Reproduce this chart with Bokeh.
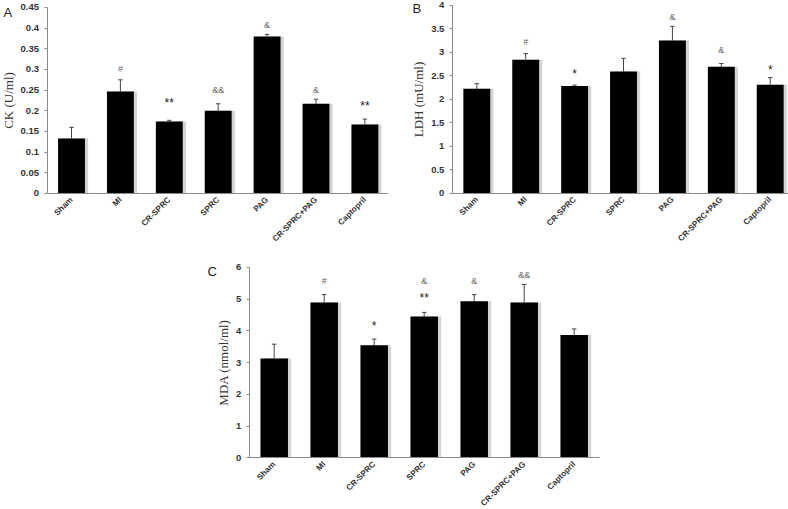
import math
from bokeh.plotting import figure
from bokeh.models import Range1d, FixedTicker, Spacer, ColumnDataSource
from bokeh.layouts import row, column
from bokeh.transform import dodge
from bokeh.embed import file_html
from bokeh.resources import INLINE
from bokeh.core.properties import value

groups = ["Sham", "MI", "CR-SPRC", "SPRC", "PAG", "CR-SPRC+PAG", "Captopril"]

# Panel A: CK
ck_mean = [0.133, 0.247, 0.174, 0.200, 0.380, 0.217, 0.167]
ck_err = [0.027, 0.028, 0.003, 0.017, 0.005, 0.011, 0.013]
ck_ticks = [0, 0.05, 0.1, 0.15, 0.2, 0.25, 0.3, 0.35, 0.4, 0.45]
ck_tick_labels = ["0", "0.05", "0.1", "0.15", "0.2", "0.25", "0.3", "0.35", "0.4", "0.45"]
ck_mark_group = ["MI", "CR-SPRC", "SPRC", "PAG", "CR-SPRC+PAG", "Captopril"]
ck_mark_text = ["#", "**", "&&", "&", "&", "**"]
ck_mark_y = [0.302, 0.227, 0.250, 0.408, 0.250, 0.218]

# Panel B: LDH
ldh_mean = [2.22, 2.84, 2.28, 2.59, 3.25, 2.69, 2.31]
ldh_err = [0.11, 0.13, 0.02, 0.28, 0.30, 0.07, 0.15]
ldh_ticks = [0, 0.5, 1, 1.5, 2, 2.5, 3, 3.5, 4]
ldh_tick_labels = ["0", "0.5", "1", "1.5", "2", "2.5", "3", "3.5", "4"]
ldh_mark_group = ["MI", "CR-SPRC", "PAG", "CR-SPRC+PAG", "Captopril"]
ldh_mark_text = ["#", "*", "&", "&", "*"]
ldh_mark_y = [3.21, 2.60, 3.74, 3.04, 2.68]

# Panel C: MDA
mda_mean = [3.13, 4.89, 3.55, 4.45, 4.93, 4.89, 3.87]
mda_err = [0.45, 0.25, 0.19, 0.13, 0.21, 0.57, 0.19]
mda_ticks = [0, 1, 2, 3, 4, 5, 6]
mda_tick_labels = ["0", "1", "2", "3", "4", "5", "6"]
mda_mark_group = ["MI", "CR-SPRC", "SPRC", "SPRC", "PAG", "CR-SPRC+PAG"]
mda_mark_text = ["#", "*", "&", "**", "&", "&&"]
mda_mark_y = [5.57, 4.24, 5.57, 5.13, 5.57, 5.77]


def panel(means, errs, ticks, tick_labels, ylabel, letter, letter_xy,
          mgroups, mtexts, mys, width, height, xr, yr):
    p = figure(width=width, height=height, output_backend="svg", toolbar_location=None,
               x_range=Range1d(*xr), y_range=Range1d(*yr),
               min_border_left=0, min_border_right=0, min_border_top=0, min_border_bottom=0)
    p.title.visible = False
    p.outline_line_color = None
    p.xgrid.visible = False
    p.ygrid.visible = False
    p.background_fill_color = "white"
    p.border_fill_color = "white"

    xs = list(range(len(groups)))
    tops = [m + e for m, e in zip(means, errs)]
    src = ColumnDataSource(dict(x=xs, top=means, etop=tops))
    p.vbar(x=dodge("x", 0.065, range=p.x_range), top="top", bottom=ticks[0], width=0.55,
           source=src, fill_color="#d4d4d4", line_color=None)
    p.segment(x0="x", y0="top", x1="x", y1="etop", source=src, line_color="#444444", line_width=1)
    p.segment(x0=dodge("x", -0.045, range=p.x_range), y0="etop",
              x1=dodge("x", 0.045, range=p.x_range), y1="etop", source=src,
              line_color="#444444", line_width=1)
    p.vbar(x="x", top="top", bottom=ticks[0], width=0.55, source=src,
           fill_color="black", line_color=None)

    idx = [groups.index(g) for g in mgroups]
    for i, t, y in zip(idx, mtexts, mys):
        star = "*" in t
        p.text(x=[i], y=[y], text=[t], text_align="center", text_baseline="middle",
               text_font=value("Liberation Sans"),
               text_font_size="12px" if star else "9px",
               text_color="#222222" if star else "#666666",
               y_offset=3 if star else 0)

    p.text(x=[letter_xy[0]], y=[letter_xy[1]], text=[letter], text_align="left",
           text_baseline="middle", text_font=value("Liberation Sans"),
           text_font_size="13px", text_color="#222222")

    p.xaxis.fixed_location = ticks[0]
    p.xaxis.bounds = (-0.5, len(groups) - 0.5)
    p.xaxis.ticker = FixedTicker(ticks=xs)
    p.xaxis.major_label_overrides = {i: g for i, g in enumerate(groups)}
    p.xaxis.major_label_orientation = math.pi / 4
    p.xaxis.major_label_text_font = "Liberation Sans"
    p.xaxis.major_label_text_font_style = "bold"
    p.xaxis.major_label_text_font_size = "8.2px"
    p.xaxis.major_label_text_color = "#333333"
    p.xaxis.major_label_standoff = 5
    p.xaxis.major_tick_out = 0
    p.xaxis.major_tick_in = 0
    p.xaxis.minor_tick_line_color = None
    p.xaxis.axis_line_color = "#8a8a8a"

    p.yaxis.fixed_location = -0.5
    p.yaxis.bounds = (ticks[0], ticks[-1])
    p.yaxis.ticker = FixedTicker(ticks=ticks)
    p.yaxis.major_label_overrides = {t: l for t, l in zip(ticks, tick_labels)}
    p.yaxis.major_label_text_font = "Liberation Sans"
    p.yaxis.major_label_text_font_style = "bold"
    p.yaxis.major_label_text_font_size = "9.5px"
    p.yaxis.major_label_text_color = "#333333"
    p.yaxis.major_label_standoff = 5
    p.yaxis.major_tick_out = 3
    p.yaxis.major_tick_in = 0
    p.yaxis.major_tick_line_color = "#8a8a8a"
    p.yaxis.minor_tick_line_color = None
    p.yaxis.axis_line_color = "#8a8a8a"
    p.yaxis.axis_label = ylabel
    p.yaxis.axis_label_text_font = "Liberation Serif"
    p.yaxis.axis_label_text_font_style = "normal"
    p.yaxis.axis_label_text_font_size = "13px"
    p.yaxis.axis_label_text_color = "#333333"
    p.yaxis.axis_label_standoff = 2
    return p


pA = panel(ck_mean, ck_err, ck_ticks, ck_tick_labels, "CK (U/ml)", "A", (-1.39, 0.4367),
           ck_mark_group, ck_mark_text, ck_mark_y, 388, 247,
           (-1.452, 6.483), (-0.1307, 0.4669))
pB = panel(ldh_mean, ldh_err, ldh_ticks, ldh_tick_labels, "LDH (mU/ml)", "B", (-1.315, 3.94),
           ldh_mark_group, ldh_mark_text, ldh_mark_y, 400, 247,
           (-1.806, 6.374), (-1.155, 4.1))
pC = panel(mda_mean, mda_err, mda_ticks, mda_tick_labels, "MDA (nmol/ml)", "C", (-1.334, 5.864),
           mda_mark_group, mda_mark_text, mda_mark_y, 420, 261,
           (-1.674, 6.726), (-1.59, 6.622))

layout = column(row(pA, pB), row(Spacer(width=190, height=261), pC))

open("out.html", "w").write(file_html(layout, INLINE))
